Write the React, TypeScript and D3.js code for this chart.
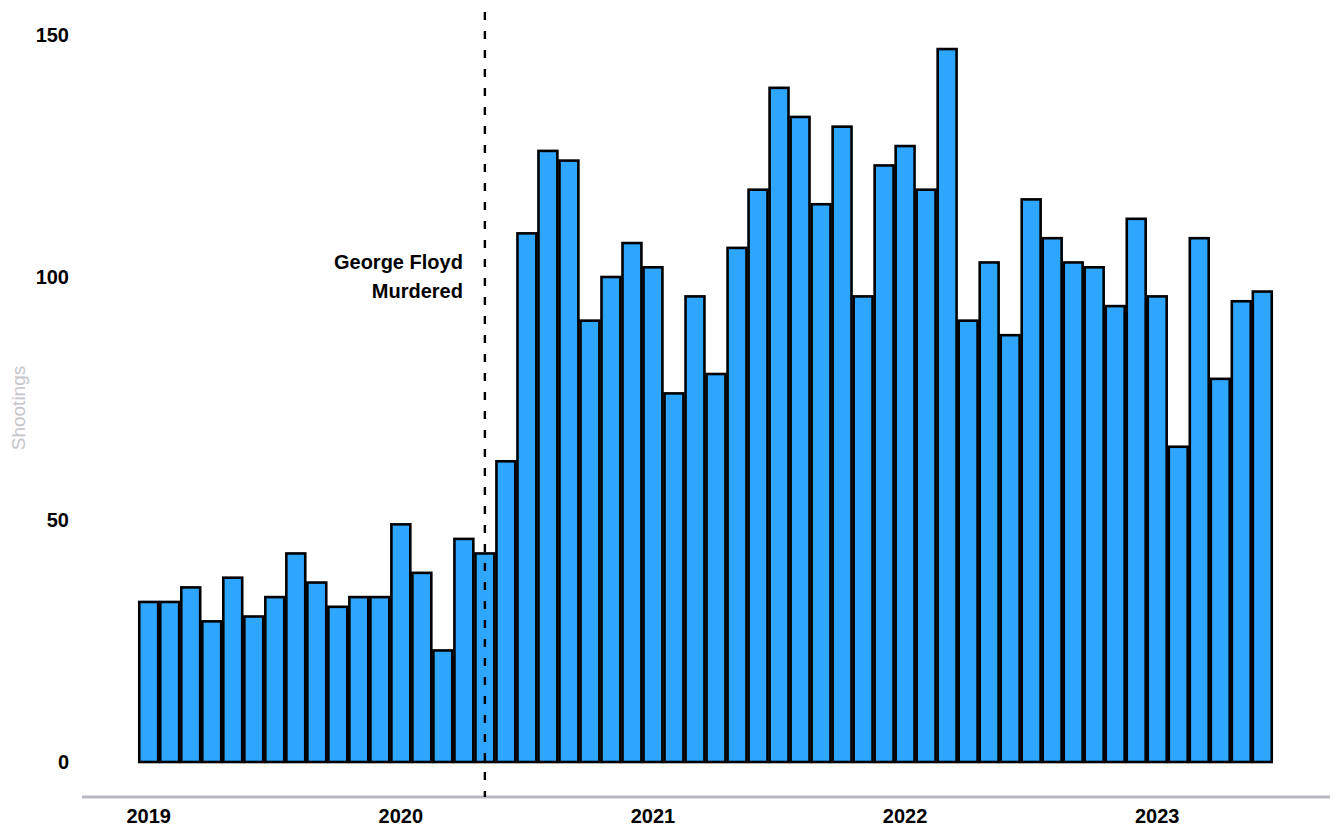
import * as d3 from "d3";
import { useEffect, useRef } from "react";

// monthly shootings, Jan 2019 .. Jun 2023
const months = d3.range(54).map((i) => {
  const y = 2019 + Math.floor(i / 12);
  const m = (i % 12) + 1;
  return `${y}-${String(m).padStart(2, "0")}`;
});

const shootings = [
  33, 33, 36, 29, 38, 30, 34, 43, 37, 32, 34, 34,
  49, 39, 23, 46, 43, 62, 109, 126, 124, 91, 100, 107,
  102, 76, 96, 80, 106, 118, 139, 133, 115, 131, 96, 123,
  127, 118, 147, 91, 103, 88, 116, 108, 103, 102, 94, 112,
  96, 65, 108, 79, 95, 97,
];

const yearTicks = ["2019", "2020", "2021", "2022", "2023"];
const yTicks = [0, 50, 100, 150];
const eventMonth = "2020-05";
const eventLabel = ["George Floyd", "Murdered"];

const W = 1336;
const H = 827;
const FONT = "'Liberation Sans', Arial, Helvetica, sans-serif";

export default function App() {
  const svgRef = useRef<SVGSVGElement>(null);

  useEffect(() => {
    const svg = d3.select(svgRef.current);
    svg.selectAll("*").remove();

    const x = d3.scaleBand<string>().domain(months).range([138, 1273]).paddingInner(0.1).paddingOuter(0.06);
    const y = d3.scaleLinear().domain([0, 150]).range([762, 34.5]);

    // bars
    svg
      .append("g")
      .selectAll("rect")
      .data(shootings)
      .join("rect")
      .attr("x", (_, i) => x(months[i])!)
      .attr("y", (d) => y(d))
      .attr("width", x.bandwidth())
      .attr("height", (d) => y(0) - y(d))
      .attr("fill", "#2fa6fe")
      .attr("stroke", "#000")
      .attr("stroke-width", 2.6);

    // y tick labels
    svg
      .append("g")
      .selectAll("text")
      .data(yTicks)
      .join("text")
      .attr("x", 69)
      .attr("y", (d) => y(d))
      .attr("dy", "0.35em")
      .attr("text-anchor", "end")
      .attr("font-family", FONT)
      .attr("font-weight", "bold")
      .attr("font-size", 20)
      .attr("fill", "#000")
      .text((d) => d);

    // y title
    svg
      .append("text")
      .attr("transform", "translate(25, 408) rotate(-90)")
      .attr("text-anchor", "middle")
      .attr("font-family", FONT)
      .attr("font-size", 19)
      .attr("fill", "#c4c4ca")
      .text("Shootings");

    // x baseline
    svg
      .append("line")
      .attr("x1", 82)
      .attr("x2", 1330)
      .attr("y1", 797)
      .attr("y2", 797)
      .attr("stroke", "#b8b8c2")
      .attr("stroke-width", 3);

    // year labels under January bars
    svg
      .append("g")
      .selectAll("text")
      .data(yearTicks)
      .join("text")
      .attr("x", (d) => x(`${d}-01`)! + x.bandwidth() / 2)
      .attr("y", 823)
      .attr("text-anchor", "middle")
      .attr("font-family", FONT)
      .attr("font-weight", "bold")
      .attr("font-size", 20)
      .attr("fill", "#000")
      .text((d) => d);

    // event marker
    const ex = x(eventMonth)! + x.bandwidth() / 2;
    svg
      .append("line")
      .attr("x1", ex)
      .attr("x2", ex)
      .attr("y1", 12)
      .attr("y2", 797)
      .attr("stroke", "#000")
      .attr("stroke-width", 2.4)
      .attr("stroke-dasharray", "8 11");

    svg
      .append("g")
      .selectAll("text")
      .data(eventLabel)
      .join("text")
      .attr("x", ex - 22)
      .attr("y", (_, i) => 269 + i * 29)
      .attr("text-anchor", "end")
      .attr("font-family", FONT)
      .attr("font-weight", "bold")
      .attr("font-size", 20)
      .attr("fill", "#000")
      .text((d) => d);
  }, []);

  return (
    <div style={{ position: "absolute", left: 0, top: 0 }}>
      <svg ref={svgRef} width={W} height={H} style={{ display: "block", background: "#fff" }} />
    </div>
  );
}
